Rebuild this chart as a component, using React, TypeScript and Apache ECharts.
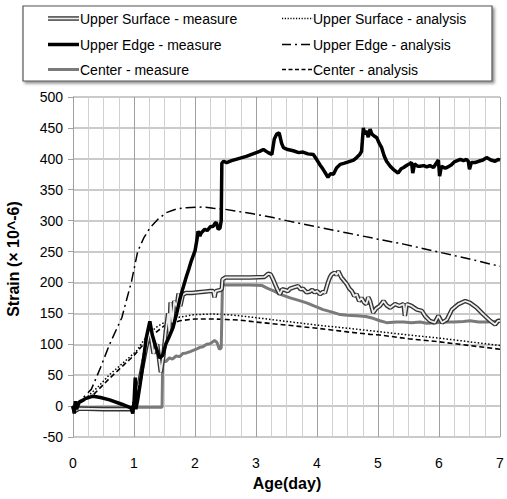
import React, { useEffect, useRef } from "react";
import * as echarts from "echarts";

// ---- Data (day, strain ×10^-6) ----
const xTicks = [0, 1, 2, 3, 4, 5, 6, 7];
const yTicks = [-50, 0, 50, 100, 150, 200, 250, 300, 350, 400, 450, 500];

const seriesNames = [
  "Upper Surface - measure",
  "Upper Edge - measure",
  "Center - measure",
  "Upper Surface - analysis",
  "Upper Edge - analysis",
  "Center - analysis",
];

const upperEdgeMeasure: [number, number][] = [
  [0, 0], [0.02, -12], [0.04, 8], [0.06, -5], [0.1, 6], [0.2, 12], [0.33, 16], [0.45, 14], [0.6, 10], [0.8, 3],
  [0.95, -3], [0.98, -12], [1.0, 5], [1.02, 46], [1.03, -5], [1.06, 10], [1.1, 35], [1.15, 70], [1.2, 110], [1.26, 137],
  [1.3, 115], [1.36, 95], [1.42, 78], [1.47, 82], [1.52, 100], [1.58, 113], [1.64, 127], [1.7, 150], [1.75, 172], [1.8, 190],
  [1.86, 210], [1.9, 222], [1.94, 235], [2.0, 251], [2.03, 268], [2.05, 283], [2.08, 275], [2.1, 280], [2.16, 286], [2.2, 284],
  [2.25, 290], [2.3, 291], [2.33, 296], [2.35, 297], [2.38, 286], [2.41, 288], [2.43, 300], [2.44, 393], [2.47, 396], [2.52, 394],
  [2.6, 397], [2.7, 400], [2.84, 404], [2.95, 408], [3.06, 412], [3.12, 415], [3.2, 410], [3.26, 407], [3.3, 432], [3.34, 440],
  [3.38, 442], [3.42, 425], [3.45, 418], [3.52, 415], [3.61, 413], [3.7, 410], [3.77, 411], [3.85, 408], [3.94, 407], [4.0, 398],
  [4.05, 390], [4.1, 383], [4.15, 375], [4.18, 370], [4.22, 376], [4.27, 375], [4.32, 385], [4.38, 391], [4.45, 393], [4.54, 396],
  [4.6, 398], [4.65, 402], [4.7, 407], [4.73, 412], [4.76, 450], [4.78, 440], [4.81, 445], [4.84, 435], [4.87, 448], [4.9, 440],
  [4.95, 436], [4.98, 434], [5.02, 425], [5.06, 418], [5.1, 405], [5.14, 396], [5.2, 388], [5.25, 383], [5.33, 377], [5.38, 384],
  [5.42, 386], [5.48, 390], [5.52, 392], [5.55, 394], [5.57, 377], [5.6, 392], [5.65, 388], [5.69, 388], [5.75, 389], [5.8, 387],
  [5.85, 389], [5.91, 386], [5.95, 392], [5.99, 398], [6.01, 372], [6.04, 388], [6.1, 385], [6.13, 386], [6.2, 390], [6.25, 395],
  [6.3, 397], [6.35, 399], [6.4, 397], [6.45, 399], [6.48, 396], [6.5, 383], [6.53, 394], [6.59, 394], [6.65, 396], [6.72, 398],
  [6.78, 402], [6.85, 398], [6.92, 396], [6.97, 399], [7.0, 398],
];

const upperSurfaceMeasure: [number, number][] = [
  [0, 0], [0.03, -8], [0.1, -4], [0.5, -5], [0.95, -5], [1.0, 0], [1.05, 20], [1.12, 55], [1.2, 95], [1.26, 122],
  [1.32, 85], [1.38, 100], [1.44, 55], [1.48, 80], [1.52, 120], [1.56, 150], [1.58, 118], [1.6, 168], [1.63, 135], [1.66, 170],
  [1.7, 160], [1.73, 182], [1.76, 162], [1.8, 180], [1.85, 183], [1.95, 183], [2.05, 184], [2.15, 185], [2.25, 186], [2.3, 186],
  [2.32, 176], [2.34, 186], [2.42, 188], [2.44, 190], [2.45, 205], [2.5, 208], [2.7, 208], [2.9, 208], [3.14, 209], [3.2, 214],
  [3.24, 213], [3.28, 205], [3.34, 191], [3.39, 181], [3.43, 189], [3.47, 188], [3.52, 186], [3.56, 190], [3.62, 192], [3.69, 194],
  [3.73, 189], [3.77, 190], [3.83, 184], [3.88, 185], [3.92, 188], [3.96, 184], [4.0, 186], [4.05, 181], [4.1, 185], [4.13, 183],
  [4.18, 200], [4.21, 208], [4.24, 213], [4.29, 216], [4.32, 212], [4.35, 218], [4.4, 208], [4.45, 202], [4.49, 197], [4.53, 190],
  [4.57, 186], [4.61, 178], [4.65, 181], [4.69, 170], [4.73, 175], [4.77, 168], [4.81, 165], [4.84, 176], [4.87, 170], [4.92, 151],
  [4.97, 158], [5.03, 162], [5.09, 170], [5.14, 163], [5.2, 159], [5.28, 165], [5.35, 162], [5.42, 165], [5.44, 146], [5.47, 165],
  [5.55, 162], [5.64, 156], [5.72, 154], [5.77, 146], [5.85, 138], [5.93, 135], [5.99, 146], [6.05, 135], [6.13, 140], [6.21, 156],
  [6.32, 165], [6.43, 170], [6.51, 167], [6.62, 159], [6.73, 148], [6.84, 138], [6.92, 132], [6.97, 138], [7.0, 138],
];

const centerMeasure: [number, number][] = [
  [0, 0], [0.05, -3], [0.5, -2], [1.0, -2], [1.2, -2], [1.46, -2], [1.47, 73], [1.52, 72], [1.58, 78], [1.63, 76],
  [1.69, 81], [1.75, 80], [1.8, 85], [1.86, 86], [1.92, 88], [1.97, 90], [2.02, 92], [2.08, 95], [2.13, 96], [2.19, 100],
  [2.25, 101], [2.32, 106], [2.36, 103], [2.4, 92], [2.43, 94], [2.45, 197], [2.5, 196], [2.7, 196], [2.9, 196], [3.1, 195],
  [3.2, 190], [3.3, 186], [3.39, 181], [3.48, 178], [3.56, 175], [3.7, 171], [3.83, 167], [3.95, 162], [4.1, 156], [4.25, 152],
  [4.38, 148], [4.5, 147], [4.65, 146], [4.8, 145], [4.92, 142], [5.03, 138], [5.14, 135], [5.3, 136], [5.42, 136], [5.55, 135],
  [5.69, 136], [5.8, 134], [5.96, 135], [6.1, 136], [6.24, 136], [6.4, 137], [6.51, 138], [6.65, 136], [6.78, 136], [6.9, 137],
  [7.0, 138],
];

const upperSurfaceAnalysis: [number, number][] = [
  [0, 0], [0.2, 12], [0.4, 30], [0.6, 51], [0.8, 68], [1.04, 89], [1.15, 105], [1.26, 119], [1.4, 130], [1.53, 137],
  [1.75, 144], [2.0, 148], [2.3, 149], [2.52, 148], [2.74, 146], [3.0, 143], [3.5, 137], [4.0, 131], [4.5, 126], [4.87, 122],
  [5.5, 115], [6.0, 110], [6.5, 104], [7.0, 98],
];

const upperEdgeAnalysis: [number, number][] = [
  [0, 0], [0.15, 12], [0.3, 27], [0.45, 62], [0.6, 100], [0.8, 143], [0.96, 202], [1.06, 250], [1.16, 272], [1.26, 288],
  [1.4, 303], [1.53, 313], [1.7, 319], [1.86, 321], [2.13, 322], [2.3, 320], [2.45, 319], [2.7, 315], [2.95, 311], [3.28, 305],
  [3.5, 300], [4.0, 290], [4.5, 280], [5.0, 270], [5.42, 262], [6.0, 249], [6.5, 238], [7.0, 226],
];

const centerAnalysis: [number, number][] = [
  [0, 0], [0.3, 15], [0.6, 45], [1.0, 82], [1.26, 112], [1.5, 130], [1.75, 138], [2.0, 141], [2.3, 141], [2.52, 140],
  [2.74, 139], [3.0, 136], [3.5, 131], [4.0, 126], [4.5, 120], [4.87, 116], [5.03, 115], [5.5, 109], [6.0, 104], [6.5, 98],
  [7.0, 92],
];

const FONT = "Liberation Sans";

function lineSeries(name: string, data: [number, number][], lineStyle: any, z: number) {
  return {
    name,
    type: "line",
    data,
    showSymbol: false,
    symbol: "none",
    silent: true,
    z,
    lineStyle,
  };
}

function legendGraphics() {
  const els: any[] = [];
  els.push({
    type: "rect",
    shape: { x: 23, y: 6, width: 469, height: 75 },
    style: {
      fill: "#fff",
      stroke: "#555",
      lineWidth: 1.2,
      shadowBlur: 3,
      shadowOffsetX: 2,
      shadowOffsetY: 2,
      shadowColor: "rgba(0,0,0,0.45)",
    },
    z: 10,
  });
  const rowsY = [18.5, 44.5, 69.5];
  const leftSym = [
    [{ stroke: "#333", lineWidth: 4.5 }, { stroke: "#eee", lineWidth: 1.8 }],
    [{ stroke: "#000", lineWidth: 3.5 }],
    [{ stroke: "#7a7a7a", lineWidth: 3 }],
  ];
  const rightSym = [
    [{ stroke: "#000", lineWidth: 1.3, lineDash: [1.2, 1.6] }],
    [{ stroke: "#000", lineWidth: 1.6, lineDash: [9, 4, 2, 4] }],
    [{ stroke: "#000", lineWidth: 1.6, lineDash: [4, 2.5] }],
  ];
  const txt = (text: string, x: number, y: number) => ({
    type: "text",
    x,
    y,
    style: {
      text,
      fontFamily: FONT,
      fontSize: 14,
      fill: "#000",
      textVerticalAlign: "middle",
    },
    z: 11,
  });
  for (let i = 0; i < 3; i++) {
    const y = rowsY[i];
    leftSym[i].forEach((s) =>
      els.push({ type: "line", shape: { x1: 48, y1: y, x2: 79, y2: y }, style: s, z: 11 })
    );
    rightSym[i].forEach((s) =>
      els.push({ type: "line", shape: { x1: 282, y1: y, x2: 313, y2: y }, style: s, z: 11 })
    );
    els.push(txt(seriesNames[i], 80, y));
    els.push(txt(seriesNames[i + 3], 313, y));
  }
  els.push({
    type: "text",
    x: 13,
    y: 259,
    rotation: Math.PI / 2,
    style: {
      text: "Strain (× 10^-6)",
      fontFamily: FONT,
      fontWeight: "bold",
      fontSize: 16,
      fill: "#000",
      textAlign: "center",
      textVerticalAlign: "middle",
    },
  });
  els.push({
    type: "text",
    x: 287,
    y: 483,
    style: {
      text: "Age(day)",
      fontFamily: FONT,
      fontWeight: "bold",
      fontSize: 16,
      fill: "#000",
      textAlign: "center",
      textVerticalAlign: "middle",
    },
  });
  return els;
}

export default function App() {
  const ref = useRef<HTMLDivElement>(null);
  useEffect(() => {
    if (!ref.current) return;
    const chart = echarts.init(ref.current, null, { renderer: "svg" });
    chart.setOption({
      animation: false,
      backgroundColor: "#fff",
      grid: { left: 73, right: 7, top: 97, bottom: 62, containLabel: false },
      xAxis: {
        type: "value",
        min: xTicks[0],
        max: xTicks[xTicks.length - 1],
        interval: 1,
        axisLine: { show: false, onZero: false },
        axisTick: { show: false },
        axisLabel: { margin: 19, fontSize: 14, color: "#000", fontFamily: FONT },
        splitLine: { show: true, lineStyle: { color: "#a0a0a0", width: 1 } },
        minorTick: { show: false, splitNumber: 4 },
        minorSplitLine: { show: true, lineStyle: { color: "#d0d0d0", width: 1 } },
      },
      yAxis: {
        type: "value",
        min: yTicks[0],
        max: yTicks[yTicks.length - 1],
        interval: 50,
        axisLine: { show: true, onZero: false, lineStyle: { color: "#a0a0a0", width: 1 } },
        axisTick: { show: true, length: 5, lineStyle: { color: "#a0a0a0" } },
        axisLabel: { margin: 10, fontSize: 14, color: "#000", fontFamily: FONT },
        splitLine: { show: true, lineStyle: { color: "#b8b8b8", width: 1.5 } },
      },
      graphic: legendGraphics(),
      series: [
        lineSeries(seriesNames[3], upperSurfaceAnalysis, { color: "#000", width: 1.5, type: [1.5, 2] }, 2),
        lineSeries(seriesNames[5], centerAnalysis, { color: "#000", width: 1.6, type: [5, 3] }, 2),
        lineSeries(seriesNames[4], upperEdgeAnalysis, { color: "#000", width: 1.5, type: [10, 4, 2, 4] }, 2),
        lineSeries(seriesNames[2], centerMeasure, { color: "#7a7a7a", width: 3 }, 3),
        lineSeries(seriesNames[0], upperSurfaceMeasure, { color: "#333", width: 4.5 }, 4),
        lineSeries(seriesNames[0] + " inner", upperSurfaceMeasure, { color: "#eeeeee", width: 1.8 }, 5),
        lineSeries(seriesNames[1], upperEdgeMeasure, { color: "#000", width: 3.5 }, 6),
      ],
    });
    return () => chart.dispose();
  }, []);
  return (
    <div
      ref={ref}
      style={{ position: "absolute", left: 0, top: 0, width: 507, height: 499 }}
    />
  );
}
